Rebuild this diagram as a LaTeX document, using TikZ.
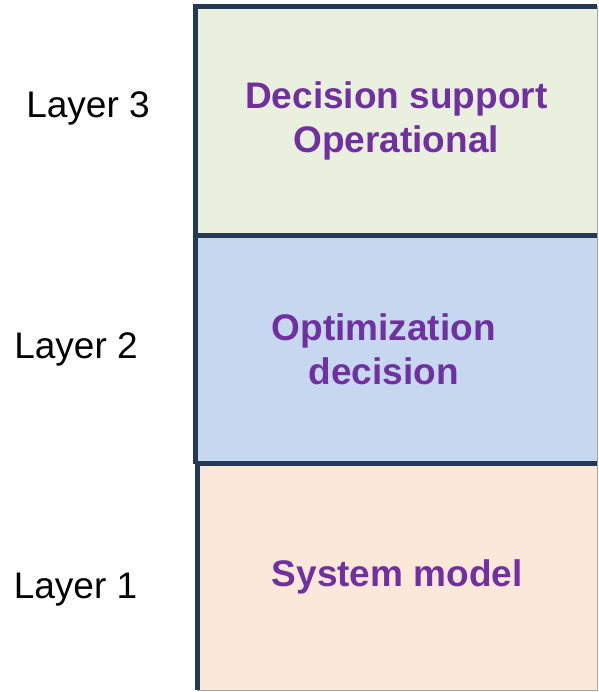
\documentclass[tikz,border=0pt]{standalone}
\usepackage{fontspec}
\setmainfont{Liberation Sans}
\usetikzlibrary{positioning}

\definecolor{layerNavy}{RGB}{36,58,82}
\definecolor{layerGreen}{HTML}{E9F0DD}
\definecolor{layerBlue}{HTML}{C5D8F0}
\definecolor{layerPeach}{HTML}{FBE8D8}
\definecolor{layerPurple}{HTML}{7030A0}

\begin{document}
\begin{tikzpicture}[
    x=1pt, y=-1pt,
    layer-box/.style={draw=gray!70, line width=0.8pt, outer sep=0pt, inner sep=0pt, minimum width=401.5pt},
    layer-edge/.style={draw=layerNavy, line width=4.5pt},
    layer-text/.style={font=\bfseries\fontsize{37}{44}\selectfont, text=layerPurple, align=center},
    layer-name/.style={font=\fontsize{37}{44}\selectfont, anchor=base}
  ]
\useasboundingbox (0,0) rectangle (598,692);

% Layer boxes
\node[layer-box, fill=layerGreen, minimum height=229pt] (top) at (396.25,121) {};
\node[layer-box, fill=layerBlue, minimum height=228pt] (mid) at (396.25,349.5) {};
\node[layer-box, fill=layerPeach, minimum width=399.5pt, minimum height=226.5pt] (bot) at (397.25,576.75) {};

% Thick edges on the left and top
\draw[layer-edge] (bot.south west) -- (bot.north west);
\draw[layer-edge] (mid.south west) -- (mid.north west);
\draw[layer-edge] (top.south west) -- (top.north west) -- (top.north east);
\draw[layer-edge] (mid.north west) -- (mid.north east);
\draw[layer-edge] (mid.south west) -- (mid.south east);

% Texts inside the boxes
\node[layer-text] (topText) at (top.center) {Decision support\\Operational};
\node[layer-text, xshift=-12.5pt] (midText) at (mid.center) {Optimization\\decision};
\node[layer-text] (botText) at (bot.center) {System model};

% Layer names
\node[layer-name] (l3) at (88,118) {Layer 3};
\node[layer-name] (l2) at (76,358) {Layer 2};
\node[layer-name] (l1) at (75.5,598) {Layer 1};

\end{tikzpicture}
\end{document}
